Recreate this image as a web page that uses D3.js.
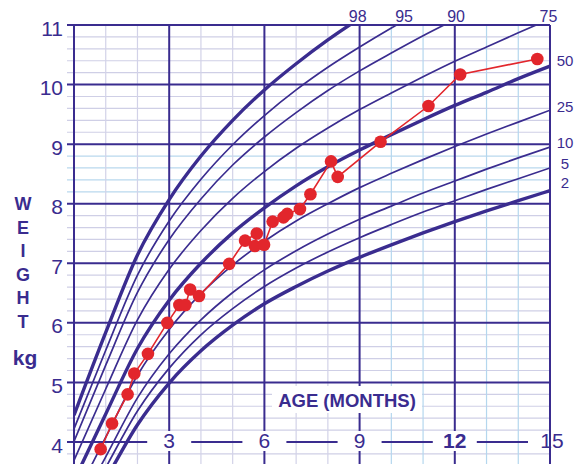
<!DOCTYPE html>
<html>
<head>
<meta charset="utf-8">
<script src="https://cdnjs.cloudflare.com/ajax/libs/d3/7.8.5/d3.min.js"></script>
<style>
	body { margin: 0; background: #fff; }
	text { font-family: "Liberation Sans", Arial, sans-serif; fill: #3a2c8f; }
</style>
</head>
<body>
<div class="graph-box"></div>
<script>
// growth chart data (months / kg)
var months = [0, 1, 2, 3, 4, 5, 6, 7, 8, 9, 10, 11, 12, 13, 14, 15];

var p98 = [4.45, 5.84, 7.14, 8.07, 8.80, 9.40, 9.91, 10.35, 10.75, 11.11, 11.44];
var p95 = [4.22, 5.54, 6.80, 7.71, 8.41, 8.99, 9.48, 9.91, 10.29, 10.63, 10.95, 11.25];
var p90 = [4.01, 5.29, 6.51, 7.40, 8.08, 8.65, 9.12, 9.53, 9.90, 10.23, 10.53, 10.82, 11.09];
var p75 = [3.69, 4.89, 6.05, 6.90, 7.55, 8.09, 8.54, 8.93, 9.27, 9.58, 9.86, 10.13, 10.39, 10.63, 10.87, 11.10];
var p50 = [3.35, 4.47, 5.57, 6.38, 7.00, 7.51, 7.93, 8.30, 8.62, 8.90, 9.16, 9.41, 9.65, 9.87, 10.10, 10.31];
var p25 = [3.03, 4.08, 5.12, 5.89, 6.49, 6.97, 7.37, 7.71, 8.00, 8.27, 8.51, 8.74, 8.96, 9.17, 9.37, 9.57];
var p10 = [2.76, 3.75, 4.74, 5.48, 6.05, 6.51, 6.89, 7.21, 7.49, 7.74, 7.96, 8.18, 8.38, 8.58, 8.77, 8.95];
var p5 = [2.60, 3.57, 4.52, 5.24, 5.80, 6.24, 6.61, 6.92, 7.19, 7.43, 7.65, 7.86, 8.05, 8.24, 8.42, 8.60];
var p2 = [2.44, 3.37, 4.29, 4.99, 5.53, 5.96, 6.32, 6.61, 6.87, 7.10, 7.31, 7.51, 7.70, 7.88, 8.05, 8.22];

var topLabels = ["98", "95", "90", "75"];
var sideLabels = ["50", "25", "10", "5", "2"];

// the child's measurements
var ageMonths = [0.84, 1.20, 1.69, 1.90, 2.33, 2.94, 3.32, 3.51, 3.66, 3.94, 4.89, 5.39, 5.76, 5.70, 5.99,
	6.26, 6.60, 6.72, 7.12, 7.45, 8.10, 8.31, 9.66, 11.17, 12.17, 14.60];
var weightKg = [3.88, 4.31, 4.80, 5.15, 5.48, 6.00, 6.30, 6.30, 6.56, 6.45, 6.99, 7.38, 7.50, 7.29, 7.31,
	7.70, 7.77, 7.83, 7.91, 8.16, 8.71, 8.45, 9.04, 9.64, 10.17, 10.43];

var xTicks = [3, 6, 9, 12, 15];
var yTicks = [4, 5, 6, 7, 8, 9, 10, 11];

var dark = "#3a2c8f";

var svg = d3.select(".graph-box")
		.append("svg")
		.attr("width", 584)
		.attr("height", 464);

var x = d3.scaleLinear().domain([0, 15]).range([74, 550]);
var y = d3.scaleLinear().domain([4, 11]).range([442, 25]);

svg.append("clipPath").attr("id", "plot")
	.append("rect")
	.attr("x", x(0)).attr("y", y(11))
	.attr("width", x(15) - x(0)).attr("height", 464 - y(11));

// minor grid
var minorY = d3.range(3.6, 11.01, 0.2).filter(function(v) { return Math.abs(v - Math.round(v)) > 0.01; });
svg.selectAll(".minor-h")
	.data(minorY)
	.enter()
	.append("line")
	.attr("x1", 67).attr("x2", x(15))
	.attr("y1", function(d) { return y(d); })
	.attr("y2", function(d) { return y(d); })
	.attr("stroke", function(d) { return (d > 8 && d < 9) ? "#b9d8ee" : "#cfcfe6"; })
	.attr("stroke-width", 1.2);

var minorX = d3.range(1, 15).filter(function(m) { return m % 3 != 0; });
svg.selectAll(".minor-v")
	.data(minorX)
	.enter()
	.append("line")
	.attr("x1", function(d) { return x(d); })
	.attr("x2", function(d) { return x(d); })
	.attr("y1", y(11)).attr("y2", 464)
	.attr("stroke", function(d) { return d > 9 ? "#b4d7ee" : "#d2d2e8"; })
	.attr("stroke-width", 1.2);

// major grid
svg.selectAll(".major-h")
	.data(yTicks.filter(function(d) { return d > 4; }))
	.enter()
	.append("line")
	.attr("x1", 67).attr("x2", x(15))
	.attr("y1", function(d) { return y(d); })
	.attr("y2", function(d) { return y(d); })
	.attr("stroke", dark)
	.attr("stroke-width", 2);

svg.selectAll(".major-v")
	.data([0].concat(xTicks))
	.enter()
	.append("line")
	.attr("x1", function(d) { return x(d); })
	.attr("x2", function(d) { return x(d); })
	.attr("y1", y(11)).attr("y2", 464)
	.attr("stroke", dark)
	.attr("stroke-width", 2);

// white patches behind the bottom labels
svg.append("rect")
	.attr("x", 272).attr("y", 386).attr("width", 150).attr("height", 27)
	.attr("fill", "#fff");
svg.selectAll(".lab-bg")
	.data(xTicks.slice(0, 4))
	.enter()
	.append("rect")
	.attr("x", function(d) { return x(d) - (d > 9 ? 16 : 10); })
	.attr("y", 431)
	.attr("width", function(d) { return d > 9 ? 32 : 20; })
	.attr("height", 20)
	.attr("fill", "#fff");

// 4 kg line is broken up by the month labels
var segs = [[67, x(3) - 22]];
for (var i = 0; i < xTicks.length - 1; i++) {
	segs.push([x(xTicks[i]) + 22, x(xTicks[i + 1]) - 22]);
}
svg.selectAll(".seg4")
	.data(segs)
	.enter()
	.append("line")
	.attr("x1", function(d) { return d[0]; })
	.attr("x2", function(d) { return d[1]; })
	.attr("y1", y(4)).attr("y2", y(4))
	.attr("stroke", dark)
	.attr("stroke-width", 2);

// percentile curves
var curves = [
	{ v: p98, heavy: true }, { v: p95 }, { v: p90 }, { v: p75 }, { v: p50, heavy: true },
	{ v: p25 }, { v: p10 }, { v: p5 }, { v: p2, heavy: true }
];

var line = d3.line()
	.x(function(d) { return x(d[0]); })
	.y(function(d) { return y(d[1]); })
	.curve(d3.curveMonotoneX);

svg.append("g")
	.attr("clip-path", "url(#plot)")
	.selectAll("path")
	.data(curves)
	.enter()
	.append("path")
	.attr("d", function(c) {
		return line(c.v.map(function(w, i) { return [months[i], w]; }));
	})
	.attr("fill", "none")
	.attr("stroke", dark)
	.attr("stroke-width", function(c) { return c.heavy ? 3.4 : 1.7; });

// measurements
var pts = ageMonths.map(function(m, i) { return [m, weightKg[i]]; });
svg.append("path")
	.attr("d", d3.line().x(function(d) { return x(d[0]); }).y(function(d) { return y(d[1]); })(pts))
	.attr("fill", "none")
	.attr("stroke", "#e2262c")
	.attr("stroke-width", 1.6);
svg.selectAll(".pt")
	.data(pts)
	.enter()
	.append("circle")
	.attr("cx", function(d) { return x(d[0]); })
	.attr("cy", function(d) { return y(d[1]); })
	.attr("r", 6.3)
	.attr("fill", "#e2262c");

// axis labels
svg.selectAll(".ylab")
	.data(yTicks)
	.enter()
	.append("text")
	.attr("x", 63)
	.attr("y", function(d) { return y(d); })
	.attr("dy", "0.5em")
	.attr("text-anchor", "end")
	.style("font-size", "21px")
	.text(function(d) { return d; });

svg.selectAll(".xlab")
	.data(xTicks)
	.enter()
	.append("text")
	.attr("x", function(d) { return x(d) + (d == 15 ? 2 : 0); })
	.attr("y", 448)
	.attr("text-anchor", "middle")
	.style("font-size", "21px")
	.style("font-weight", function(d) { return d == 12 ? "bold" : "normal"; })
	.text(function(d) { return d; });

svg.append("text")
	.attr("x", 347).attr("y", 407)
	.attr("text-anchor", "middle")
	.style("font-size", "18.5px")
	.style("font-weight", "bold")
	.text("AGE (MONTHS)");

svg.selectAll(".wlab")
	.data("WEIGHT".split(""))
	.enter()
	.append("text")
	.attr("x", 23)
	.attr("y", function(d, i) { return 210 + i * 23.6; })
	.attr("text-anchor", "middle")
	.style("font-size", "18px")
	.style("font-weight", "bold")
	.text(function(d) { return d; });

svg.append("text")
	.attr("x", 25).attr("y", 365)
	.attr("text-anchor", "middle")
	.style("font-size", "21px")
	.style("font-weight", "bold")
	.text("kg");

// percentile names at the line ends
var topX = [8.94, 10.4, 12.04, 14.95];
svg.selectAll(".tlab")
	.data(topLabels)
	.enter()
	.append("text")
	.attr("x", function(d, i) { return x(topX[i]); })
	.attr("y", 22)
	.attr("text-anchor", "middle")
	.style("font-size", "16px")
	.text(function(d) { return d; });

var sideY = [10.4, 9.63, 9.03, 8.68, 8.35];
svg.selectAll(".slab")
	.data(sideLabels)
	.enter()
	.append("text")
	.attr("x", 565)
	.attr("y", function(d, i) { return y(sideY[i]); })
	.attr("dy", "0.36em")
	.attr("text-anchor", "middle")
	.style("font-size", "15px")
	.text(function(d) { return d; });
</script>
</body>
</html>
